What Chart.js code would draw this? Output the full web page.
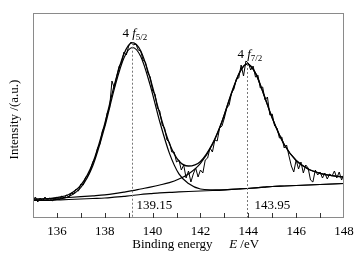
<!DOCTYPE html>
<html>
<head>
<meta charset="utf-8">
<script src="https://cdn.jsdelivr.net/npm/chart.js@4.4.1/dist/chart.umd.min.js"></script>
<style>
  html, body { margin: 0; padding: 0; background: #fff; }
  #wrap { width: 362px; height: 258px; }
</style>
</head>
<body>
<div id="wrap"><canvas id="chart" width="362" height="258"></canvas></div>
<script>
// energy grid of the fitted curves (eV)
const fitE = [135, 135.5, 136, 136.5, 137, 137.5, 138, 138.4, 138.8, 139.15, 139.5, 139.9, 140.3, 140.7, 141.1,
              141.5, 142, 142.5, 142.9, 143.3, 143.65, 143.95, 144.3, 144.65, 145, 145.5, 146, 146.5, 147, 147.5, 148];
// Shirley background
const background = [17.5, 17.5, 18, 18.5, 19, 19.5, 20, 20.8, 21.7, 22.5, 23.5, 24.3, 25.1, 25.7, 26.1,
                    26.5, 27, 27.5, 27.9, 28.6, 29.1, 29.5, 30.1, 30.8, 31.5, 32, 32.5, 33, 33.5, 34, 34.5];
// 4f5/2 component (on background)
const peak52 = [17.5, 17.6, 18.6, 21.5, 30.5, 52.3, 91.1, 129.2, 159.9, 170.5, 161.7, 132.7, 96.2, 64.9, 44.1,
                34.5, 29, 28.2, 28.1, 28.7, 29.1, 29.5, 30.1, 30.8, 31.5, 32, 32.5, 33, 33.5, 34, 34.5];
// 4f7/2 component (on background)
const peak72 = [18.9, 19.1, 19.8, 20.5, 21.3, 22.2, 23.2, 24.4, 25.9, 27.3, 29, 30.9, 33, 35.4, 39,
                44, 54.6, 73.5, 96.4, 124.6, 146.3, 154, 144.9, 123.3, 100, 73.5, 57.5, 49, 44.7, 42.3, 41.1];
// fitted envelope
const envelope = [18.9, 19.2, 20.4, 23.5, 32.8, 55, 94.3, 132.8, 164.1, 175.3, 167.2, 139.3, 104.1, 74.6, 57,
                  52, 56.6, 74.2, 96.6, 125.3, 146.3, 154, 144.9, 123.3, 100, 73.5, 57.5, 49, 44.7, 42.3, 41.1];

// measured spectrum, 135.0 .. 148.0 eV every 0.1 eV
const rawStart = 135, rawStep = 0.1;
const rawCounts = [
  18, 21, 16, 20, 17, 21, 18, 20, 17, 19,
  21, 18, 22, 20, 23, 21, 25, 24, 29, 27,
  34, 33, 41, 42, 48, 56, 60, 70, 74, 87,
  92, 105, 110, 137, 130, 142, 152, 155, 166, 163,
  172, 176, 173, 174, 168, 167, 158, 156, 145, 141,
  127, 124, 110, 107, 93, 90, 78, 76, 66, 66,
  56, 58, 48, 53, 40, 47, 36, 44, 50, 41,
  48, 45, 58, 60, 70, 66, 78, 77, 90, 92,
  100, 110, 113, 125, 129, 139, 140, 153, 142, 157,
  155, 148, 152, 141, 143, 130, 131, 118, 121, 103,
  104, 92, 90, 80, 81, 70, 73, 62, 52, 46,
  58, 49, 56, 45, 53, 50, 38, 36, 48, 43,
  46, 40, 45, 39, 44, 42, 47, 40, 46, 38,
  44
];

const xTicks = [136, 138, 140, 142, 144, 146, 148];
const peakE = [139.15, 143.95];
const peakTop = [175.3, 154];
const peakSub = ['5/2', '7/2'];

const pts = (xs, ys) => ys.map((v, i) => ({ x: xs[i], y: v }));
const rawPts = rawCounts.map((v, i) => ({ x: +(rawStart + i * rawStep).toFixed(1), y: v }));

const serif = '"Liberation Serif", "Times New Roman", serif';

const decor = {
  id: 'decor',
  afterDraw(chart) {
    const { ctx, chartArea: a, scales: { x, y } } = chart;
    ctx.save();
    // frame
    ctx.strokeStyle = '#8a8a8a';
    ctx.lineWidth = 1;
    ctx.strokeRect(a.left + 0.5, a.top + 0.5, a.right - a.left - 1, a.bottom - a.top - 1);
    // inward ticks every 1 eV
    ctx.strokeStyle = '#333';
    for (let v = 136; v < 148; v++) {
      const px = Math.round(x.getPixelForValue(v)) + 0.5;
      ctx.beginPath();
      ctx.moveTo(px, a.bottom);
      ctx.lineTo(px, a.bottom - 5);
      ctx.stroke();
    }
    // dashed peak lines + labels
    ctx.fillStyle = '#000';
    peakE.forEach((e, i) => {
      const px = Math.round(x.getPixelForValue(e)) + 0.5;
      const top = y.getPixelForValue(peakTop[i]);
      ctx.strokeStyle = '#777';
      ctx.setLineDash([2, 2]);
      ctx.beginPath();
      ctx.moveTo(px, top);
      ctx.lineTo(px, a.bottom);
      ctx.stroke();
      ctx.setLineDash([]);

      // 4 f with subscript
      const base = top - 6;
      let tx = px - 10;
      ctx.textAlign = 'left';
      ctx.textBaseline = 'alphabetic';
      ctx.font = '13px ' + serif;
      ctx.fillText('4', tx, base);
      tx += ctx.measureText('4 ').width;
      ctx.font = 'italic 13px ' + serif;
      ctx.fillText('f', tx, base);
      tx += ctx.measureText('f').width;
      ctx.font = '9px ' + serif;
      ctx.fillText(peakSub[i], tx, base + 3);

      // energy value under the line
      ctx.font = '13px ' + serif;
      ctx.fillText(e.toFixed(2), px + (i === 0 ? 4 : 7), a.bottom - 9);
    });

    // axis titles
    ctx.font = '13px ' + serif;
    ctx.textAlign = 'left';
    ctx.fillText('Binding energy', x.getPixelForValue(139.15), 248);
    ctx.font = 'italic 13px ' + serif;
    ctx.fillText('E', x.getPixelForValue(143.2), 248);
    const ew = ctx.measureText('E ').width;
    ctx.font = '13px ' + serif;
    ctx.fillText('/eV', x.getPixelForValue(143.2) + ew, 248);

    ctx.translate(15, (a.top + a.bottom) / 2 + 4);
    ctx.rotate(-Math.PI / 2);
    ctx.textAlign = 'center';
    ctx.textBaseline = 'middle';
    ctx.fillText('Intensity /(a.u.)', 0, 0);
    ctx.restore();
  }
};

const line = (data, w, smooth) => ({
  data: data,
  borderColor: '#000',
  borderWidth: w,
  pointRadius: 0,
  fill: false,
  tension: 0,
  cubicInterpolationMode: smooth ? 'monotone' : 'default'
});

new Chart(document.getElementById('chart').getContext('2d'), {
  type: 'line',
  data: {
    datasets: [
      line(rawPts, 1, false),
      line(pts(fitE, background), 1.2, true),
      line(pts(fitE, peak52), 1.2, true),
      line(pts(fitE, peak72), 1.2, true),
      line(pts(fitE, envelope), 1.3, true)
    ]
  },
  options: {
    responsive: false,
    animation: false,
    devicePixelRatio: 1,
    layout: { padding: { left: 33, right: 18, top: 13, bottom: 0 } },
    plugins: { legend: { display: false }, tooltip: { enabled: false } },
    scales: {
      x: {
        type: 'linear',
        min: 135,
        max: 148,
        afterBuildTicks: s => { s.ticks = xTicks.map(v => ({ value: v })); },
        afterFit: s => { s.height = 40; },
        grid: { display: false, drawTicks: false },
        border: { display: false },
        ticks: {
          padding: 6,
          color: '#000',
          font: { family: serif, size: 13 },
          maxRotation: 0,
          autoSkip: false
        }
      },
      y: {
        display: false,
        min: 0,
        max: 205
      }
    }
  },
  plugins: [decor]
});
</script>
</body>
</html>
